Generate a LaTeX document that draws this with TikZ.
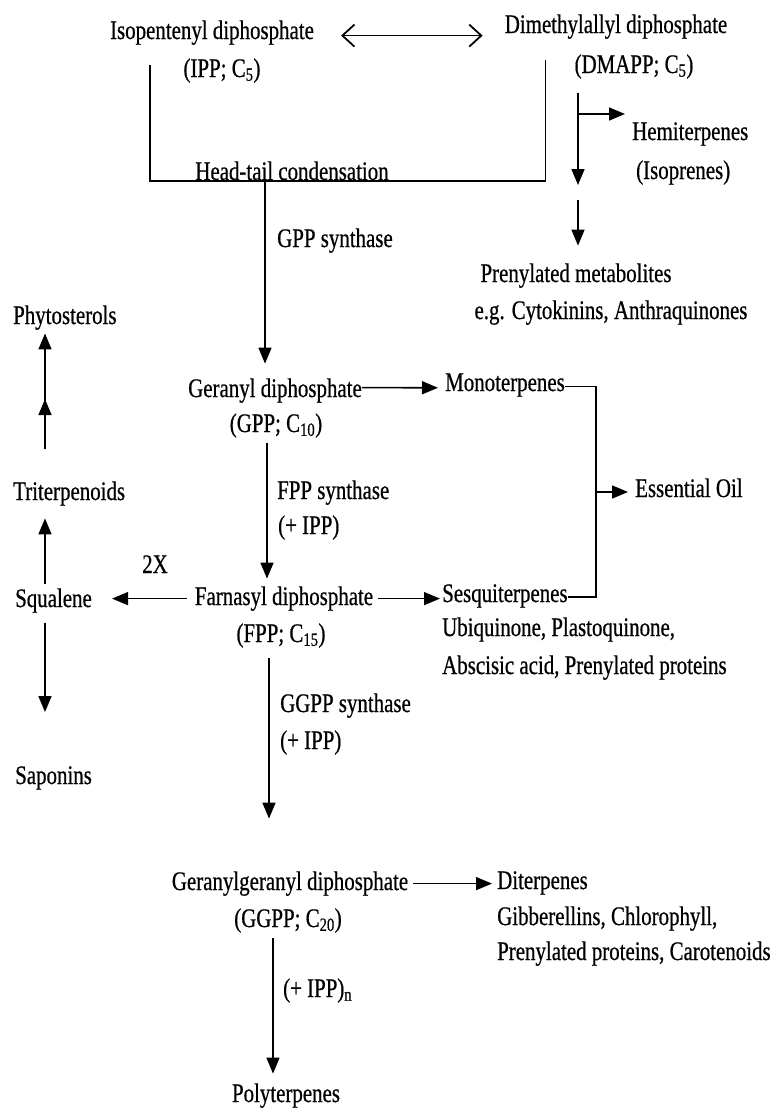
\documentclass[tikz,border=0pt]{standalone}
\usepackage{fontspec}
\setmainfont{Liberation Serif}[FakeStretch=0.78,FakeBold=0.6]
\usetikzlibrary{arrows.meta,decorations.markings}
\begin{document}
\begin{tikzpicture}[x=1pt,y=-1pt,
  lbl/.style={font=\fontsize{26.8}{30}\selectfont, inner sep=0pt, anchor=base},
  lbll/.style={lbl, anchor=base west},
  conn/.style={line width=1.6pt},
  arr/.style={conn, -{Triangle[length=16pt,width=13pt]}},
  dbl/.style={line width=1.8pt, {Straight Barb[length=12pt,width=22pt]}-{Straight Barb[length=12pt,width=22pt]}},
  midarr/.style={postaction={decorate}, decoration={markings, mark=at position #1 with {\arrow{Triangle[length=16pt,width=13pt]}}}}]
\useasboundingbox (0,0) rectangle (777,1109);

% ---- nodes ----
\node[lbl] (ipp1) at (212,39) {Isopentenyl diphosphate};
\node[lbl] (ipp2) at (222,77) {(IPP; C\textsubscript{5})};
\node[lbl] (dmapp1) at (616,33) {Dimethylallyl diphosphate};
\node[lbl] (dmapp2) at (634,73) {(DMAPP; C\textsubscript{5})};
\node[lbll] (gppsyn) at (277,247) {GPP synthase};
\node[lbll] (hemi) at (632,140) {Hemiterpenes};
\node[lbll] (isop) at (636,179) {(Isoprenes)};
\node[lbl] (prenyl) at (576,282) {Prenylated metabolites};
\node[lbl] (eg) at (611,319) {e.g. Cytokinins, Anthraquinones};
\node[lbll] (phyto) at (13,324) {Phytosterols};
\node[lbll] (triterp) at (13,500) {Triterpenoids};
\node[lbl] (twox) at (155,573) {2X};
\node[lbll] (squal) at (15,607) {Squalene};
\node[lbll] (sapon) at (15,784) {Saponins};
\node[lbl] (geranyl) at (275,397) {Geranyl diphosphate};
\node[lbl] (gpp2) at (276,432) {(GPP; C\textsubscript{10})};
\node[lbll] (fppsyn) at (277,499) {FPP synthase};
\node[lbll] (fppipp) at (278,534) {(+ IPP)};
\node[lbl] (farn) at (284,605) {Farnasyl diphosphate};
\node[lbl] (fpp2) at (281,642) {(FPP; C\textsubscript{15})};
\node[lbll] (ggppsyn) at (280,712) {GGPP synthase};
\node[lbll] (ggppipp) at (280,749) {(+ IPP)};
\node[lbl] (ggpp) at (290,890) {Geranylgeranyl diphosphate};
\node[lbl] (ggpp2) at (288,927) {(GGPP; C\textsubscript{20})};
\node[lbll] (ippn) at (283,997) {(+ IPP)\textsubscript{n}};
\node[lbl] (poly) at (286,1102) {Polyterpenes};
\node[lbll] (mono) at (445,391) {Monoterpenes};
\node[lbll] (essoil) at (635,497) {Essential Oil};
\node[lbll] (sesq) at (442,602) {Sesquiterpenes};
\node[lbll] (ubi) at (442,636) {Ubiquinone, Plastoquinone,};
\node[lbll] (absc) at (442,674) {Abscisic acid, Prenylated proteins};
\node[lbll] (diter) at (497,889) {Diterpenes};
\node[lbll] (gibb) at (497,925) {Gibberellins, Chlorophyll,};
\node[lbll] (carot) at (497,960) {Prenylated proteins, Carotenoids};

% ---- junction coordinates ----
\coordinate (ht) at (265,181);
\coordinate (eo) at (596,492);
\coordinate (dmEnd) at (578,185);
\coordinate (dmStart2) at (578,200);
\coordinate (hemiJ) at (578,114);

% ---- connectors ----
\draw[dbl] ([shift={(27,3)}]ipp1.east) -- ([shift={(-22,9)}]dmapp1.west);

\draw[conn] ([shift={(40,20)}]ipp1.south west) |- (ht) -| ([shift={(41,21.5)}]dmapp1.south west);
\node[lbl] (headtail) at (292,180) {Head-tail condensation};
\draw[arr] (ht) -- ([shift={(-10,-14.6)}]geranyl.north);

\draw[arr] ([shift={(-56,14.5)}]dmapp2.south) -- (dmEnd);
\draw[arr] (hemiJ) -- ([shift={(-7,-20)}]hemi.west);
\draw[arr] (dmStart2) -- ([shift={(2,-17.6)}]prenyl.north);

\draw[arr] ([shift={(0,-3)}]geranyl.east) -- ([shift={(-7,2.7)}]mono.west);
\draw[conn] ([shift={(0,1.5)}]mono.east) -| (eo) |- ([shift={(0,1)}]sesq.east);
\draw[arr, shorten >=7pt] (eo) -- (eo -| essoil.west);

\draw[arr] ([shift={(-9,5.5)}]gpp2.south) -- ([shift={(-17,-7.6)}]farn.north);
\draw[arr, shorten <=8pt, shorten >=20pt] (farn.west) -- (farn.west -| squal.east);
\draw[arr, shorten <=5pt, shorten >=2pt] (farn.east) -- (farn.east -| sesq.west);
\draw[arr] ([shift={(-12,10.5)}]fpp2.south) -- ([shift={(-21,-52.6)}]ggpp.north);
\draw[arr, shorten <=5pt, shorten >=5pt] (ggpp.east) -- (ggpp.east -| diter.west);
\draw[arr] ([shift={(-15,5.5)}]ggpp2.south) -- ([shift={(-13,-9.6)}]poly.north);

\draw[arr] ([shift={(30,-4.6)}]squal.north west) -- ([shift={(32,12.5)}]triterp.south west);
\draw[arr, midarr=0.43] ([shift={(32,-32.6)}]triterp.north west) -- ([shift={(32,3.5)}]phyto.south west);
\draw[arr] ([shift={(30,10.5)}]squal.south west) -- ([shift={(30,-54)}]sapon.north west);
\end{tikzpicture}
\end{document}
